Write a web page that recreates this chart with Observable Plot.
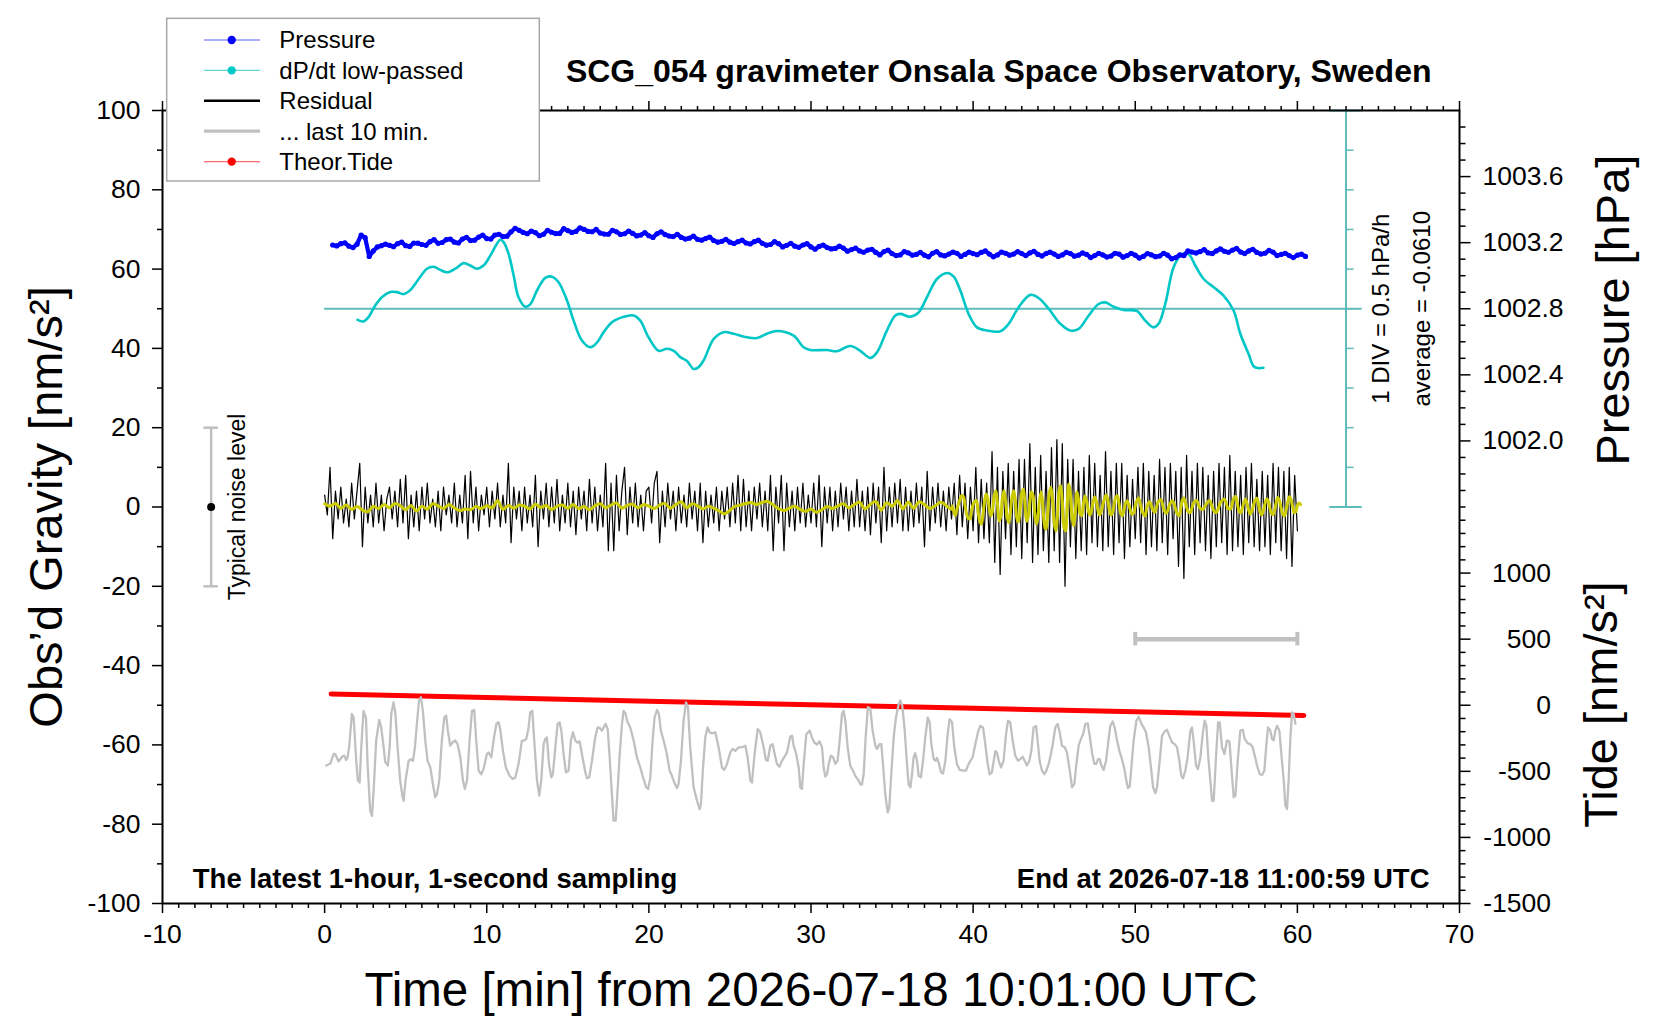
<!DOCTYPE html>
<html><head><meta charset="utf-8">
<script src="https://cdn.jsdelivr.net/npm/d3@7"></script>
<script src="https://cdn.jsdelivr.net/npm/@observablehq/plot@0.6"></script>
<style>html,body{margin:0;padding:0;background:#fff;overflow:hidden}</style>
</head><body><div id="chart"></div>
<script>
// ---------- DATA ----------
const TITLE = "SCG_054 gravimeter Onsala Space Observatory, Sweden";
const X_TITLE = "Time [min] from 2026-07-18 10:01:00 UTC";
const Y_TITLE = "Obs’d Gravity [nm/s²]";
const P_TITLE = "Pressure [hPa]";
const T_TITLE = "Tide [nm/s²]";
const NOTE_LEFT = "The latest 1-hour, 1-second sampling";
const NOTE_RIGHT = "End at 2026-07-18 11:00:59 UTC";

const xMajor = [-10, 0, 10, 20, 30, 40, 50, 60, 70];
const yMajor = [-100, -80, -60, -40, -20, 0, 20, 40, 60, 80, 100];
const pressureLabels = [1002.0, 1002.4, 1002.8, 1003.2, 1003.6];
const tideLabels = [-1500, -1000, -500, 0, 500, 1000];
const pressureAxisSpan = [1001.6, 1004.0];   // maps to gravity 0..100
const tideAxisSpan = [-1500, 1500];          // maps to gravity -100..0

// pressure (hPa): samples every 0.5 min from 0.5 min, and the in-between samples (0.75, 1.25, ...)
const pressureStart = 0.5, pressureStep = 0.5;
const pressureHPa = [1003.186,1003.194,1003.179,1003.191,1003.230,1003.150,1003.182,1003.184,1003.194,1003.182,
1003.198,1003.189,1003.206,1003.196,1003.218,1003.203,1003.222,1003.213,1003.234,1003.225,
1003.246,1003.237,1003.266,1003.275,1003.254,1003.261,1003.251,1003.263,1003.256,1003.273,
1003.268,1003.280,1003.266,1003.258,1003.251,1003.266,1003.254,1003.256,1003.246,1003.242,
1003.254,1003.249,1003.237,1003.232,1003.227,1003.220,1003.225,1003.213,1003.208,1003.203,
1003.206,1003.198,1003.206,1003.196,1003.189,1003.194,1003.184,1003.179,1003.186,1003.174,
1003.177,1003.170,1003.165,1003.167,1003.158,1003.150,1003.155,1003.141,1003.146,1003.134,
1003.126,1003.138,1003.129,1003.124,1003.136,1003.126,1003.131,1003.136,1003.129,1003.134,
1003.141,1003.131,1003.126,1003.136,1003.131,1003.134,1003.138,1003.129,1003.134,1003.131,
1003.126,1003.134,1003.124,1003.129,1003.122,1003.126,1003.119,1003.131,1003.122,1003.124,
1003.117,1003.126,1003.119,1003.124,1003.110,1003.122,1003.143,1003.146,1003.138,1003.150,
1003.148,1003.155,1003.143,1003.150,1003.141,1003.136,1003.143,1003.129,1003.122,1003.124,1003.117];
const pressureHPaMid = [1003.180,1003.199,1003.170,1003.246,1003.117,1003.174,1003.191,1003.176,1003.203,1003.177,
1003.197,1003.184,1003.218,1003.201,1003.222,1003.198,1003.232,1003.215,1003.246,1003.222,
1003.251,1003.239,1003.287,1003.262,1003.270,1003.242,1003.275,1003.255,1003.285,1003.262,
1003.290,1003.268,1003.280,1003.252,1003.275,1003.250,1003.270,1003.241,1003.261,1003.232,
1003.266,1003.240,1003.251,1003.222,1003.239,1003.215,1003.234,1003.203,1003.220,1003.195,
1003.215,1003.192,1003.215,1003.185,1003.206,1003.174,1003.196,1003.172,1003.194,1003.160,
1003.186,1003.162,1003.179,1003.148,1003.167,1003.142,1003.160,1003.126,1003.155,1003.122,
1003.146,1003.124,1003.141,1003.114,1003.146,1003.120,1003.143,1003.117,1003.143,1003.127,
1003.150,1003.114,1003.143,1003.124,1003.146,1003.122,1003.148,1003.119,1003.143,1003.117,
1003.141,1003.118,1003.138,1003.110,1003.136,1003.113,1003.136,1003.112,1003.136,1003.107,
1003.134,1003.115,1003.136,1003.102,1003.126,1003.150,1003.137,1003.158,1003.134,1003.162,
1003.142,1003.165,1003.134,1003.160,1003.131,1003.153,1003.122,1003.136,1003.110,1003.131];

// dP/dt low-passed (hPa/h)
const dpdtAverage = -0.0610;
const dpdtPerDiv = 0.5;
const dpdtAxisX = 63;
const dpdtTime = [2.03,2.40,2.71,3.12,3.53,4.05,4.46,4.87,5.28,5.80,6.31,6.72,7.13,7.54,8.06,8.57,8.98,9.39,9.80,10.22,
10.63,10.83,11.04,11.35,11.66,11.96,12.38,12.68,13.10,13.61,14.02,14.43,14.95,15.36,15.87,16.39,16.80,17.21,17.72,18.24,
19.06,19.47,19.98,20.60,21.11,21.53,21.94,22.35,22.76,23.05,23.38,24.00,24.61,25.23,26.05,26.67,27.28,27.90,28.93,29.54,
29.95,30.98,31.60,32.42,33.04,33.66,34.07,34.68,35.20,35.51,36.12,36.64,37.15,37.77,38.39,38.80,39.21,39.72,40.24,40.85,
41.68,42.19,42.81,43.53,44.04,44.66,45.38,45.99,46.51,47.13,47.74,48.15,48.67,49.28,50.11,50.62,51.13,51.44,51.85,52.37,
52.88,53.29,53.70,54.22,54.84,55.45,56.07,56.48,57.00,57.30,57.60,57.90];
const dpdtValue = [-0.201,-0.221,-0.166,-0.021,0.084,0.149,0.149,0.124,0.174,0.314,0.444,0.469,0.429,0.399,0.444,0.514,0.484,0.444,0.484,0.609,
0.759,0.809,0.779,0.629,0.359,0.084,-0.036,-0.006,0.169,0.329,0.344,0.274,0.044,-0.211,-0.461,-0.546,-0.486,-0.356,-0.231,-0.176,
-0.146,-0.211,-0.421,-0.591,-0.566,-0.591,-0.671,-0.720,-0.820,-0.800,-0.711,-0.441,-0.356,-0.376,-0.421,-0.431,-0.376,-0.341,-0.401,-0.546,
-0.581,-0.581,-0.596,-0.531,-0.591,-0.681,-0.611,-0.336,-0.146,-0.126,-0.161,-0.106,0.084,0.314,0.389,0.344,0.169,-0.126,-0.296,-0.336,
-0.346,-0.251,-0.041,0.114,0.074,-0.061,-0.251,-0.336,-0.316,-0.146,-0.001,0.019,-0.036,-0.076,-0.091,-0.211,-0.296,-0.251,-0.001,0.464,
0.629,0.629,0.484,0.314,0.209,0.104,-0.086,-0.376,-0.636,-0.786,-0.811,-0.806];

// residual gravity (nm/s^2), every 10 s
const residualStep = 1 / 6;
const residual = [3,-2,10,-8,4,-3, 5,-4,2,-5,6,-3, 4,11,-10,5,-4,3, -5,6,-4,3,-6,2, 5,-3,4,-5,7,-4,
8,-8,3,-5,4,-6, 5,-3,6,-4,2,-5, 4,-6,5,-2,3,-4, 6,-5,3,-4,8,-8, 9,-4,5,-6,3,-2,
5,-5,4,-3,6,-5, 3,-4,11,-9,5,-3, 4,-6,5,-4,3,-5, 8,-10,4,-3,6,-5, 5,-4,7,-6,3,-4,
6,-5,4,-7,5,-3, 4,-6,7,-4,5,-6, 3,-5,11,-11,6,-11, 8,-6,4,10,-7,5, -4,6,-5,3,-6,4,
5,-4,6,9,-9,4, -5,6,-3,4,-6,5, -4,3,-5,6,-3,4, -6,6,-9,4,-5,3, -4,5,-6,4,-3,5,
-5,6,-4,8,-6,7, -5,4,-6,5,-3,6, -5,4,-6,8,-11,5, -4,8,-11,6,-5,4, -6,5,-4,6,-5,3,
-4,6,-5,8,-10,5, -4,5,-6,4,-5,6, -3,5,-6,4,-5,7, -5,4,-6,5,-7,6, -4,5,-9,10,-6,5,
-5,6,-4,7,-6,5, -6,4,-5,6,-4,5, -10,9,-6,5,-4,6, -5,4,-6,5,-3,6, -7,8,-5,6,-8,5,
-6,10,-9,7,-8,6, -9,14,-14,10,-17,9, -8,11,-12,9,-10,12, -13,12,-9,16,-14,10, -12,13,-11,9,-14,15,
-11,17,-14,16,-20,12, -10,12,-13,9,-11,10, -12,13,-9,11,-10,8, -11,14,-10,9,-12,11, -9,11,-13,8,-10,7,
-8,10,-9,11,-12,9, -10,8,-11,12,-9,10, -12,11,-8,9,-15,10, -18,13,-10,9,-12,11, -9,10,-11,8,-13,9,
-10,11,-9,10,-12,13, -11,9,-10,8,-12,10, -9,11,-10,7,-11,9, -10,8,-12,11,-9,10, -11,9,-13,10,-15,8,
-6];

// smoothed residual (yellow): quiet part every 20 s, active part every 6 s
const smoothQuietStep = 1 / 3;
const smoothQuiet = [0.8,0.2,0.9,-0.3,0.5,-0.6,0.1,-0.8,-1.2,0.2,-0.4,0.6,-0.2,0.9,0.3,
-0.7,0.4,-1.0,0.2,-0.5,0.8,0.3,-0.4,0.6,-0.2,-0.9,-0.5,-0.7,0.1,-0.4,
0.3,-0.2,1.6,-0.6,0.4,-0.3,0.5,0.2,-0.5,0.7,-0.1,0.4,-0.6,0.2,0.5,
-0.3,0.6,-0.4,0.1,-0.7,0.3,0.8,-0.2,0.5,1.0,-0.3,0.4,0.7,-0.2,0.6,
0.2,-0.4,0.5,0.9,-0.3,0.6,1.3,-0.2,0.8,0.3,-0.5,0.2,-0.3,-1.0,-1.7,
-0.8,0.2,0.5,0.9,1.1,0.6,1.2,1.4,0.5,-0.4,-0.9,-0.3,0.2,-0.6,-1.1,
-0.5,-1.3,-0.7,0.1,-0.4,0.3,0.8,-0.2,0.6,1.2,-0.5,0.7,1.4,-0.8,1.1,
0.2,1.6,-0.5,1.2,-0.3,1.3,0.6,-0.4,0.3,1.2,0.4,-0.6];
const smoothActiveStart = 38.7, smoothActiveStep = 0.1;
const smoothActive = [0.3,-1.0,-2.1,-0.5,
0.8,2.0,2.9,2.6,0.4,-1.8,-2.9,-3.0,-1.0,
0.6,1.4,1.6,-0.8,-3.5,-4.3,-2.0,1.2,3.3,2.2,
-0.5,-2.2,-0.8,2.8,4.1,1.0,-3.5,-2.5,2.0,4.1,
1.5,-2.5,-3.9,-1.2,2.5,4.1,1.8,-2.8,-3.8,-0.5,
3.5,4.5,0.5,-3.6,-2.5,1.5,3.8,2.8,-1.5,-4.3,
-2.5,1.8,3.8,0.5,-4.5,-5.6,-1.5,3.5,5.0,1.5,
-4.0,-6.0,-2.5,4.0,5.4,1.5,-5.0,-6.0,0.5,5.8,
3.5,-2.5,-4.7,-1.0,3.8,2.0,-1.8,-2.2,0.8,2.8,
1.5,-0.8,-2.0,-1.0,1.2,2.5,1.5,-0.8,-2.0,-1.2,
0.6,2.0,3.0,2.0,-0.5,-2.0,-1.5,0.8,2.5,2.8,
0.8,-1.5,-2.2,-0.8,1.0,1.6,0.6,-0.8,-1.8,-1.6,
0.2,1.6,2.3,1.0,-0.8,-1.8,-2.2,-0.6,1.0,1.3,
0.2,-0.8,-1.3,-0.2,1.2,1.7,1.8,0.4,-1.0,-1.6,
-1.0,0.4,1.2,1.6,0.8,-0.8,-1.8,-2.2,-0.4,1.6,
2.3,1.0,-0.5,-1.3,-1.4,-0.2,1.0,1.5,1.6,0.5,
-0.3,-0.6,-0.5,0.2,0.9,1.4,1.6,0.6,-0.6,-1.2,
-1.4,-0.6,0.5,1.4,1.8,2.0,1.2,-0.2,-0.5,-0.4,
1.2,2.4,2.6,0.8,-1.0,-1.5,-0.4,1.2,2.0,0.8,
-0.8,-1.8,-1.0,0.6,1.8,2.2,0.8,-1.2,-2.0,-0.9,
0.8,2.0,1.6,-0.2,-1.6,-1.9,-0.6,1.2,2.4,1.5,
-0.3,-1.8,-2.3,-0.8,1.1,2.6,2.0,0.2,-1.4,-1.2,
0.4,1.0,0.6];

// theoretical tide (nm/s^2)
const tideTime = [0.4, 10, 20, 30, 40, 50, 60.4];
const tideValue = [85, 58, 31, 4, -23, -50, -78];

// last 10 min, stretched over the hour
const last10Window = [50, 60];
const last10BarTide = 500;
const last10Time = [0.10,0.35,0.55,0.65,0.86,1.07,1.21,1.33,1.42,1.52,1.68,1.79,1.95,2.05,2.16,2.26,2.40,2.55,2.65,2.81,
2.92,3.02,3.18,3.37,3.49,3.64,3.74,3.90,4.01,4.11,4.25,4.36,4.50,4.66,4.81,4.87,4.99,5.18,5.32,5.45,
5.57,5.69,5.82,5.94,6.06,6.21,6.35,6.52,6.68,6.82,6.93,7.07,7.23,7.38,7.50,7.60,7.75,7.89,8.06,8.20,
8.37,8.53,8.65,8.78,8.94,9.09,9.23,9.35,9.50,9.66,9.80,10.01,10.11,10.28,10.42,10.59,10.73,10.83,11.00,11.18,
11.41,11.59,11.76,11.96,12.17,12.31,12.44,12.58,12.68,12.81,12.93,13.10,13.24,13.36,13.51,13.61,13.71,13.84,13.98,14.08,
14.23,14.37,14.49,14.60,14.74,14.88,15.05,15.19,15.32,15.46,15.60,15.73,15.87,16.08,16.18,16.32,16.49,16.69,16.84,16.96,
17.10,17.21,17.33,17.46,17.58,17.72,17.82,17.95,18.03,18.19,18.34,18.44,18.57,18.65,18.85,19.06,19.26,19.47,19.67,19.84,
19.96,20.09,20.23,20.35,20.50,20.62,20.74,20.91,21.11,21.28,21.42,21.57,21.73,21.83,21.98,22.14,22.29,22.41,22.55,22.76,
22.97,23.13,23.21,23.34,23.48,23.62,23.75,23.89,24.10,24.30,24.51,24.65,24.82,25.02,25.17,25.33,25.54,25.74,25.95,26.09,
26.26,26.36,26.52,26.71,26.87,27.08,27.22,27.33,27.49,27.63,27.76,27.90,28.05,28.21,28.35,28.52,28.72,28.83,28.93,29.09,
29.24,29.34,
29.44,29.55,29.71,29.92,30.06,30.20,30.37,30.53,30.68,30.78,30.88,30.99,31.09,31.23,31.36,31.50,31.64,31.77,31.91,32.01,
32.12,32.26,32.42,32.59,32.73,32.94,33.04,33.14,33.25,33.37,33.51,33.66,33.80,33.97,34.07,34.23,34.34,34.44,34.58,34.73,
34.83,34.95,35.10,35.24,35.41,35.51,35.63,35.78,35.92,36.02,36.13,36.23,36.33,36.43,36.54,36.64,36.78,36.91,37.05,37.20,
37.32,37.42,37.57,37.69,37.77,37.87,38.02,38.14,38.29,38.43,38.55,38.70,38.84,39.00,39.17,39.37,39.56,39.68,39.83,39.97,
40.14,40.30,40.44,40.61,40.75,40.90,41.02,41.16,41.27,41.37,41.47,41.58,41.72,41.88,42.03,42.15,42.29,42.44,42.60,42.77,
42.91,43.06,43.18,43.32,43.47,43.59,43.73,43.88,43.98,44.10,44.25,44.39,44.52,44.66,44.80,44.93,45.07,45.21,45.34,45.48,
45.65,45.79,45.96,46.10,46.24,46.37,46.51,46.65,46.78,46.92,47.07,47.19,47.33,47.48,47.60,47.70,47.81,47.91,48.05,48.20,
48.32,48.46,48.61,48.73,48.88,49.02,49.18,49.33,49.45,49.55,49.66,49.76,49.90,50.07,50.21,50.38,50.52,50.66,50.83,50.97,
51.10,51.24,51.34,51.51,51.65,51.82,51.96,52.10,52.27,52.43,52.58,52.72,52.84,52.95,53.09,53.23,53.40,53.50,53.60,53.75,
53.87,54.02,54.16,54.28,54.39,54.49,54.63,54.74,54.84,54.98,55.11,55.21,55.35,55.50,55.66,55.81,55.93,56.07,56.18,56.32,
56.48,56.63,56.75,56.94,57.10,57.24,57.37,57.51,57.68,57.82,57.96,58.09,58.19,58.33,58.44,58.54,58.64,58.75,58.89,59.01,
59.16,59.26,59.36,59.46,59.57,59.67,59.77,59.88];
const last10Value = [-65.2,-64.7,-62.3,-62.3,-64.2,-63.0,-62.7,-63.8,-63.1,-60.2,-52.2,-53.1,-64.0,-69.0,-69.5,-60.6,-51.4,-53.1,-64.8,-76.6,
-77.9,-71.6,-58.9,-53.7,-55.6,-60.6,-64.4,-65.2,-60.6,-52.2,-49.3,-51.8,-60.6,-69.0,-73.2,-74.1,-69.0,-64.0,-63.6,-64.0,
-60.6,-54.7,-48.8,-48.0,-51.4,-58.9,-64.0,-65.7,-69.9,-73.2,-72.4,-69.0,-58.9,-53.1,-52.6,-56.4,-60.2,-59.4,-58.9,-59.8,
-63.1,-69.0,-71.1,-69.0,-58.9,-51.4,-51.2,-58.9,-66.5,-67.4,-66.1,-62.3,-61.9,-63.1,-58.9,-54.7,-54.3,-56.0,-61.5,-65.7,
-67.8,-68.6,-68.2,-64.8,-58.9,-58.9,-58.5,-55.6,-51.8,-51.4,-58.9,-69.0,-72.8,-69.0,-59.8,-58.5,-58.1,-64.8,-68.2,-67.4,
-60.6,-54.7,-54.3,-56.4,-62.3,-66.9,-66.5,-58.9,-56.8,-58.9,-59.4,-59.1,-62.3,-66.9,-68.4,-68.2,-64.0,-58.1,-55.6,-55.7,
-56.4,-55.6,-54.7,-56.0,-63.1,-72.4,-79.1,-79.1,-74.1,-63.1,-54.7,-51.4,-52.2,-53.9,-55.6,-58.9,-63.1,-65.7,-68.6,-70.7,
-71.1,-68.2,-58.9,-53.1,-51.2,-52.2,-56.4,-58.9,-62.3,-66.5,-67.8,-69.5,-70.9,-69.9,-64.0,-53.9,-49.3,-50.5,-60.6,-70.7,
-74.1,-76.2,-74.9,-65.7,-58.1,-55.6,-56.8,-57.1,-56.8,-60.6,-65.7,-66.3,-64.8,-61.9,-61.0,-61.5,-60.6,-60.6,-60.2,-63.1,
-69.0,-69.5,-62.3,-56.0,-56.8,-60.6,-63.8,-64.0,-60.2,-59.8,-62.3,-64.8,-65.5,-64.0,-63.1,-61.9,-57.9,-57.7,-60.2,-62.3,
-65.7,-70.7,
-71.1,-64.8,-57.3,-56.4,-58.1,-59.4,-59.9,-59.1,-60.6,-65.7,-68.0,-67.4,-64.8,-62.7,-63.1,-64.8,-64.0,-58.9,-52.2,-51.4,
-53.9,-60.6,-65.2,-66.5,-67.8,-69.0,-69.9,-70.0,-67.4,-58.1,-50.5,-50.9,-56.4,-60.2,-61.0,-59.8,-59.8,-64.8,-72.4,-77.0,
-75.8,-67.4,-58.1,-53.1,-49.7,-48.8,-50.1,-56.4,-64.8,-69.9,-70.7,-67.4,-63.1,-62.1,-64.0,-67.8,-68.2,-64.0,-58.1,-53.1,
-54.3,-59.8,-63.6,-64.0,-63.3,-64.4,-66.9,-67.2,-64.0,-57.3,-53.5,-54.3,-60.6,-64.8,-66.3,-66.5,-66.5,-65.2,-64.0,-63.1,
-59.8,-56.8,-55.2,-55.6,-59.8,-64.8,-67.4,-66.9,-64.0,-61.6,-61.9,-64.0,-65.7,-64.0,-57.3,-53.9,-54.3,-58.9,-62.7,-64.0,
-63.6,-63.0,-64.0,-65.2,-64.0,-61.5,-55.6,-55.2,-58.9,-64.0,-66.5,-67.4,-66.5,-64.8,-62.3,-59.4,-55.6,-54.7,-56.8,-60.2,
-60.6,-61.9,-66.5,-70.7,-69.9,-64.8,-60.2,-58.5,-57.3,-54.7,-54.6,-57.7,-61.9,-64.8,-64.8,-63.6,-63.6,-65.2,-66.3,-64.0,
-59.8,-55.2,-54.1,-55.6,-58.9,-61.5,-63.6,-66.1,-69.0,-70.9,-70.5,-65.7,-58.9,-53.9,-52.9,-54.7,-55.6,-56.8,-60.6,-65.7,
-70.7,-72.2,-70.7,-64.0,-57.7,-56.6,-56.2,-57.7,-59.4,-59.8,-60.6,-64.0,-67.8,-68.4,-66.5,-63.1,-56.4,-55.6,-58.9,-65.2,
-66.1,-63.1,-57.3,-53.9,-55.2,-62.3,-69.0,-74.1,-74.1,-63.1,-54.3,-54.3,-60.6,-62.3,-58.9,-59.1,-65.7,-73.2,-72.8,-64.0,
-56.4,-56.2,-58.5,-59.6,-59.8,-60.6,-62.7,-65.2,-67.4,-67.6,-66.5,-59.8,-55.6,-56.4,-58.5,-58.9,-56.4,-55.2,-56.4,-62.3,
-69.0,-75.3,-76.2,-69.0,-58.1,-51.8,-52.2,-54.7];

// typical noise level marker
const noiseX = -7, noiseLevel = 20;

// legend entries
const legendItems = [
  {label: "Pressure", color: "#0000ff", line: "#5a5aff", width: 1.2, dot: true},
  {label: "dP/dt low-passed", color: "#00c8c8", line: "#5cd6d6", width: 1.2, dot: true},
  {label: "Residual", color: "#000000", line: "#000000", width: 2.6, dot: false},
  {label: "... last 10 min.", color: "#c0c0c0", line: "#c0c0c0", width: 3.2, dot: false},
  {label: "Theor.Tide", color: "#ff0000", line: "#ff6a6a", width: 1.2, dot: true}
];

// ---------- MAPPINGS onto the gravity axis ----------
const pToG = p => (p - pressureAxisSpan[0]) / (pressureAxisSpan[1] - pressureAxisSpan[0]) * 100;
const gToP = g => pressureAxisSpan[0] + g / 100 * (pressureAxisSpan[1] - pressureAxisSpan[0]);
const tideToG = t => -100 + (t - tideAxisSpan[0]) / (tideAxisSpan[1] - tideAxisSpan[0]) * 100;
const gToTide = g => tideAxisSpan[0] + (g + 100) / 100 * (tideAxisSpan[1] - tideAxisSpan[0]);
const dpdtToG = v => 50 + (v - dpdtAverage) / dpdtPerDiv * 10;

const pressureData = pressureHPa.map((p, i) => ({t: pressureStart + i * pressureStep, g: pToG(p)}))
  .concat(pressureHPaMid.map((p, i) => ({t: pressureStart + (i + 0.5) * pressureStep, g: pToG(p)})))
  .sort((a, b) => a.t - b.t);
const dpdtData = dpdtTime.map((t, i) => ({t, g: dpdtToG(dpdtValue[i])}));
const residualData = residual.map((v, i) => ({t: i * residualStep, g: v}));
const smoothData = smoothQuiet.map((v, i) => ({t: i * smoothQuietStep, g: v}))
  .concat(smoothActive.map((v, i) => ({t: smoothActiveStart + i * smoothActiveStep, g: v})));
const tideData = tideTime.map((t, i) => ({t, g: tideToG(tideValue[i])}));
const last10Data = last10Time.map((t, i) => ({t, g: last10Value[i]}));
const last10Level = tideToG(last10BarTide);

const xMinor = d3.range(-10, 71).filter(v => v % 10 !== 0);
const yMinor = d3.range(-90, 100, 20);
const pMinorG = d3.range(17, 40).map(i => 1000 + i / 10).filter(p => !pressureLabels.some(q => Math.abs(q - p) < 1e-6)).map(pToG);
const tMinorG = d3.range(-1400, 1501, 100).filter(v => v % 500 !== 0 || v === 1500).map(tideToG);
const dpdtTicks = d3.range(-5, 6).map(k => dpdtAverage + k * dpdtPerDiv);

const FONT = "'Liberation Sans', Arial, Helvetica, sans-serif";
const TEAL = "#00c6c6", TEAL_AXIS = "#5dbdbd", GREY = "#c0c0c0";
const tick = {strokeWidth: 1.5, label: null};

const chart = Plot.plot({
  width: 1660, height: 1020,
  marginLeft: 162, marginRight: 201, marginTop: 110, marginBottom: 117,
  style: {fontFamily: FONT, background: "white", color: "black", overflow: "visible"},
  x: {domain: [-10, 70], label: null},
  y: {domain: [-100, 100], label: null},
  marks: [
    // dP/dt reference line and its scale
    Plot.ruleY([dpdtAverage], {y: dpdtToG, x1: 0, x2: dpdtAxisX + 1, stroke: TEAL_AXIS, strokeWidth: 2}),
    Plot.ruleX([dpdtAxisX], {y1: () => dpdtToG(dpdtTicks[0]), y2: () => dpdtToG(dpdtTicks[dpdtTicks.length - 1]), stroke: TEAL_AXIS, strokeWidth: 2}),
    Plot.ruleY(dpdtTicks, {y: dpdtToG, x1: dpdtAxisX, x2: dpdtAxisX + 0.5, stroke: TEAL_AXIS, strokeWidth: 1.5}),
    Plot.ruleY([dpdtTicks[0], dpdtTicks[dpdtTicks.length - 1]], {y: dpdtToG, x1: dpdtAxisX - 1, x2: dpdtAxisX + 1, stroke: TEAL_AXIS, strokeWidth: 2}),
    Plot.line(dpdtData, {x: "t", y: "g", stroke: TEAL, strokeWidth: 2.6, curve: "catmull-rom"}),
    // pressure
    Plot.line(pressureData, {x: "t", y: "g", stroke: "#0000ff", strokeWidth: 4.2, strokeLinejoin: "round"}),
    Plot.dot(pressureData, {x: "t", y: "g", r: 2.6, fill: "#0000ff"}),
    // residual + smoothed
    Plot.line(residualData, {x: "t", y: "g", stroke: "black", strokeWidth: 1.2}),
    Plot.line(smoothData, {x: "t", y: "g", stroke: "#cccc00", strokeWidth: 3, curve: "catmull-rom"}),
    // tide
    Plot.line(tideData, {x: "t", y: "g", stroke: "#ff0000", strokeWidth: 5}),
    // last 10 min
    Plot.line(last10Data, {x: "t", y: "g", stroke: GREY, strokeWidth: 2.3}),
    Plot.ruleY([last10Level], {x1: last10Window[0], x2: last10Window[1], stroke: GREY, strokeWidth: 4.5}),
    Plot.ruleX(last10Window, {y1: last10Level - 1.7, y2: last10Level + 1.7, stroke: GREY, strokeWidth: 4}),
    // typical noise level
    Plot.ruleX([noiseX], {y1: -noiseLevel, y2: noiseLevel, stroke: GREY, strokeWidth: 2.5}),
    Plot.ruleY([-noiseLevel, noiseLevel], {x1: noiseX - 0.45, x2: noiseX + 0.45, stroke: GREY, strokeWidth: 2.5}),
    Plot.dot([0], {x: () => noiseX, y: d => d, r: 4, fill: "black"}),
    Plot.text(["Typical noise level"], {x: () => noiseX, y: () => 0, dx: 26, rotate: -90, fontSize: 23, text: d => d}),
    // dP/dt annotations
    Plot.text([`1 DIV = ${dpdtPerDiv} hPa/h`], {x: () => dpdtAxisX, y: () => dpdtToG(dpdtAverage), dx: 35, rotate: -90, fontSize: 24, text: d => d}),
    Plot.text([`average = ${dpdtAverage.toFixed(4)}`], {x: () => dpdtAxisX, y: () => dpdtToG(dpdtAverage), dx: 76, rotate: -90, fontSize: 24, text: d => d}),
    // axes
    Plot.axisX(xMajor, {anchor: "bottom", tickSize: 10, tickPadding: 11, fontSize: 26.5, tickFormat: d => String(d), ...tick}),
    Plot.axisX(xMinor, {anchor: "bottom", tickSize: 5, tickFormat: () => "", ...tick}),
    Plot.axisX(xMajor, {anchor: "top", tickSize: 10, tickFormat: () => "", ...tick}),
    Plot.axisX(xMinor, {anchor: "top", tickSize: 5, tickFormat: () => "", ...tick}),
    Plot.axisY(yMajor, {anchor: "left", tickSize: 10, tickPadding: 12, fontSize: 26.5, tickFormat: d => String(d), ...tick}),
    Plot.axisY(yMinor, {anchor: "left", tickSize: 5, tickFormat: () => "", ...tick}),
    Plot.axisY(pressureLabels.map(pToG), {anchor: "right", tickSize: 10.5, tickPadding: 12.5, fontSize: 26.5, tickFormat: g => gToP(g).toFixed(1), ...tick}),
    Plot.axisY(pMinorG, {anchor: "right", tickSize: 5.5, tickFormat: () => "", ...tick}),
    Plot.axisY(tideLabels.map(tideToG), {anchor: "right", tickSize: 10.5, tickPadding: 81, textAnchor: "end", fontSize: 26.5, tickFormat: g => String(Math.round(gToTide(g))), ...tick}),
    Plot.axisY(tMinorG, {anchor: "right", tickSize: 5.5, tickFormat: () => "", ...tick}),
    Plot.frame({stroke: "black", strokeWidth: 2}),
    // titles and notes
    Plot.text([TITLE], {frameAnchor: "top-right", dx: -28, dy: -39, textAnchor: "end", lineAnchor: "middle", fontSize: 32, fontWeight: "bold", text: d => d}),
    Plot.text([Y_TITLE], {frameAnchor: "left", dx: -116, rotate: -90, textAnchor: "middle", lineAnchor: "middle", fontSize: 47, text: d => d}),
    Plot.text([P_TITLE], {frameAnchor: "top-right", dx: 154, dy: 199.6, rotate: -90, textAnchor: "middle", lineAnchor: "middle", fontSize: 47, text: d => d}),
    Plot.text([T_TITLE], {frameAnchor: "top-right", dx: 142.5, dy: 594, rotate: -90, textAnchor: "middle", lineAnchor: "middle", fontSize: 47, text: d => d}),
    Plot.text([X_TITLE], {frameAnchor: "bottom", dy: 87, textAnchor: "middle", lineAnchor: "middle", fontSize: 47.5, text: d => d}),
    Plot.text([NOTE_LEFT], {frameAnchor: "bottom-left", dx: 30.3, dy: -24, textAnchor: "start", lineAnchor: "middle", fontSize: 27.5, fontWeight: "bold", text: d => d}),
    Plot.text([NOTE_RIGHT], {frameAnchor: "bottom-right", dx: -30, dy: -24, textAnchor: "end", lineAnchor: "middle", fontSize: 27.5, fontWeight: "bold", text: d => d})
  ]
});
document.getElementById("chart").appendChild(chart);

// ---------- legend box (top-left, over the frame) ----------
const svg = d3.select(chart);
const lg = svg.append("g").attr("font-family", FONT).attr("font-size", 24).attr("text-anchor", "start");
lg.append("rect").attr("x", 166.7).attr("y", 18.3).attr("width", 372.6).attr("height", 162.7)
  .attr("fill", "white").attr("stroke", "#a8a8a8").attr("stroke-width", 1.5);
legendItems.forEach((d, i) => {
  const y = 40 + i * 30.4;
  lg.append("line").attr("x1", 204).attr("x2", 260).attr("y1", y).attr("y2", y)
    .attr("stroke", d.line).attr("stroke-width", d.width);
  if (d.dot) lg.append("circle").attr("cx", 231.7).attr("cy", y).attr("r", 4.2).attr("fill", d.color);
  lg.append("text").attr("x", 279.3).attr("y", y).attr("dy", "0.35em").attr("text-anchor", "start")
    .attr("fill", "black").text(d.label);
});
</script></body></html>
